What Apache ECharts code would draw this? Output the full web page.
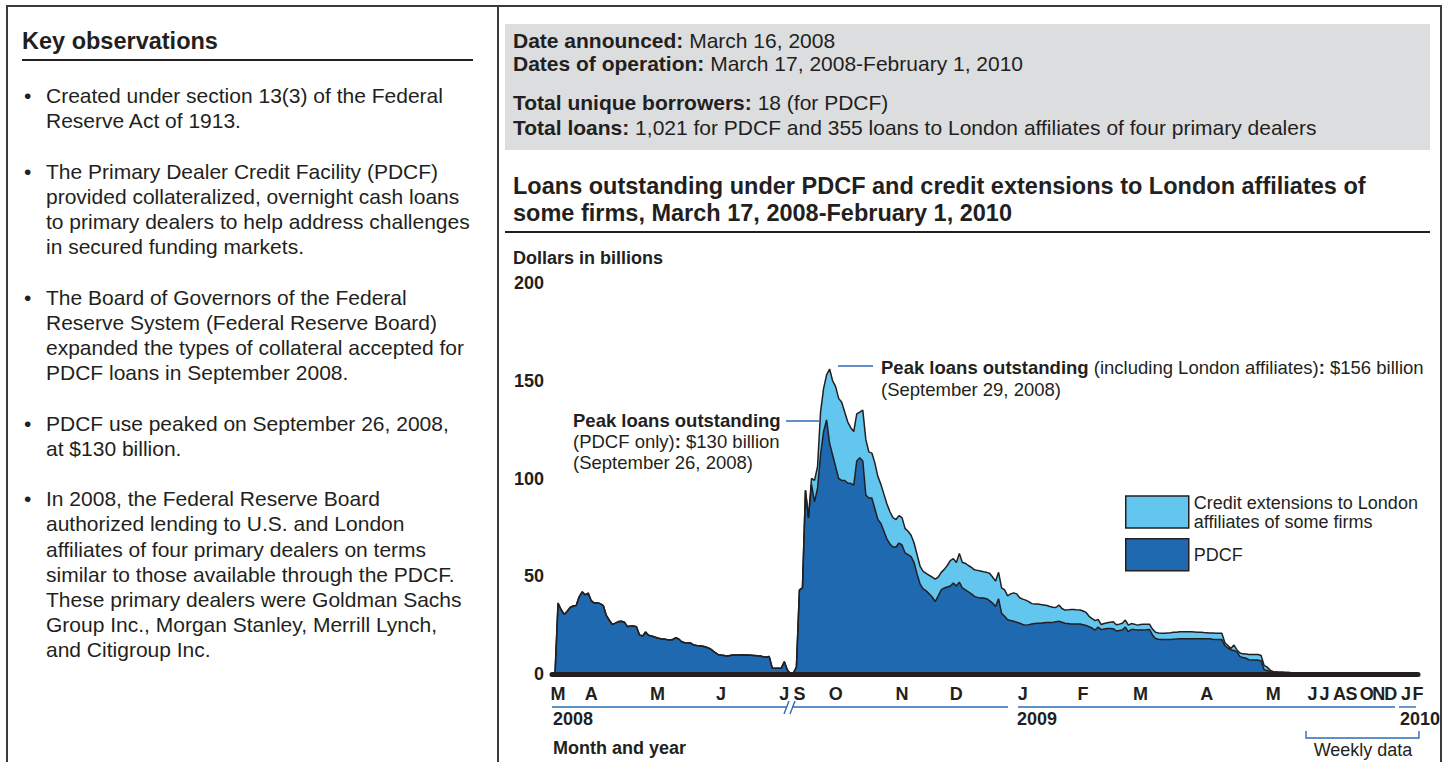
<!DOCTYPE html>
<html>
<head>
<meta charset="utf-8">
<script src="https://cdn.jsdelivr.net/npm/echarts@6/dist/echarts.min.js"></script>
<style>
html,body{margin:0;padding:0;background:#fff;}
body{width:1449px;height:762px;position:relative;overflow:hidden;font-family:"Liberation Sans",Arial,Helvetica,sans-serif;color:#231f20;}
#chart{position:absolute;left:0;top:0;width:1449px;height:762px;z-index:0;}
.abs{position:absolute;z-index:1;}
.rule{position:absolute;background:#231f20;z-index:1;}
#obs{position:absolute;left:24px;top:83px;font-size:21px;line-height:25.2px;white-space:nowrap;z-index:1;}
#obs .p{display:flex;margin-bottom:25.2px;}
#obs .b{width:22px;flex:none;}
#info{position:absolute;left:505px;top:24px;width:925px;height:126px;background:#dcdddf;z-index:0;}
.info{position:absolute;left:513px;font-size:21px;line-height:24px;white-space:nowrap;z-index:1;}
</style>
</head>
<body>
<div id="chart"></div>
<!-- frame -->
<div class="rule" style="left:6px;top:5px;width:1436px;height:1.5px;background:#3a3a3a"></div>
<div class="rule" style="left:6px;top:5px;width:1.5px;height:757px;background:#3a3a3a"></div>
<div class="rule" style="left:497px;top:5px;width:1.5px;height:757px;background:#3a3a3a"></div>
<div class="rule" style="left:1440px;top:5px;width:1.5px;height:757px;background:#3a3a3a"></div>

<!-- left panel -->
<div class="abs" style="left:22px;top:27px;font-size:23.5px;line-height:28px;font-weight:bold;white-space:nowrap">Key observations</div>
<div class="rule" style="left:22px;top:59px;width:451px;height:1.5px"></div>
<div id="obs">
  <div class="p"><span class="b">•</span><span>Created under section 13(3) of the Federal<br>Reserve Act of 1913.</span></div>
  <div class="p"><span class="b">•</span><span>The Primary Dealer Credit Facility (PDCF)<br>provided collateralized, overnight cash loans<br>to primary dealers to help address challenges<br>in secured funding markets.</span></div>
  <div class="p"><span class="b">•</span><span>The Board of Governors of the Federal<br>Reserve System (Federal Reserve Board)<br>expanded the types of collateral accepted for<br>PDCF loans in September 2008.</span></div>
  <div class="p"><span class="b">•</span><span>PDCF use peaked on September 26, 2008,<br>at $130 billion.</span></div>
  <div class="p"><span class="b">•</span><span>In 2008, the Federal Reserve Board<br>authorized lending to U.S. and London<br>affiliates of four primary dealers on terms<br>similar to those available through the PDCF.<br>These primary dealers were Goldman Sachs<br>Group Inc., Morgan Stanley, Merrill Lynch,<br>and Citigroup Inc.</span></div>
</div>

<!-- info box -->
<div id="info"></div>
<div class="info" style="top:29px"><b>Date announced:</b> March 16, 2008</div>
<div class="info" style="top:52px"><b>Dates of operation:</b> March 17, 2008-February 1, 2010</div>
<div class="info" style="top:91px"><b>Total unique borrowers:</b> 18 (for PDCF)</div>
<div class="info" style="top:116px"><b>Total loans:</b> 1,021 for PDCF and 355 loans to London affiliates of four primary dealers</div>
<div class="rule" style="left:505px;top:231px;width:925px;height:1.5px"></div>

<script>
// ---------- DATA ----------
// Observation dates: business days (daily data) then weekly data
const holidays = ['2008-05-26','2008-07-04','2008-09-01','2008-10-13','2008-11-11','2008-11-27',
  '2008-12-25','2009-01-01','2009-01-19','2009-02-16','2009-05-25'];
const dailyRanges = [['2008-03-13','2008-07-03'], ['2008-09-11','2009-05-15']];
const weeklyRange = ['2009-05-20','2010-02-03'];

function iso(d){return d.toISOString().slice(0,10);}
function businessDays(a,b){
  const out=[]; const d=new Date(a+'T00:00:00Z'); const e=new Date(b+'T00:00:00Z');
  while(d<=e){const w=d.getUTCDay(); const s=iso(d); if(w!==0&&w!==6&&holidays.indexOf(s)<0) out.push(s); d.setUTCDate(d.getUTCDate()+1);}
  return out;
}
function weeklyDays(a,b){
  const out=[]; const d=new Date(a+'T00:00:00Z'); const e=new Date(b+'T00:00:00Z');
  while(d<=e){out.push(iso(d)); d.setUTCDate(d.getUTCDate()+7);}
  return out;
}
const dates = businessDays(dailyRanges[0][0],dailyRanges[0][1])
  .concat(businessDays(dailyRanges[1][0],dailyRanges[1][1]))
  .concat(weeklyDays(weeklyRange[0],weeklyRange[1]));

// Month tick labels
const tickDates = ['2008-03-17','2008-04-01','2008-05-01','2008-06-02','2008-07-01','2008-09-15','2008-10-01',
  '2008-11-03','2008-12-01','2009-01-02','2009-02-02','2009-03-02','2009-04-01','2009-05-01','2009-06-03',
  '2009-07-01','2009-08-05','2009-09-02','2009-10-07','2009-11-04','2009-12-02','2010-01-06','2010-02-03'];
const tickLabels = ['M','A','M','J','J','S','O','N','D','J','F','M','A','M','J','J','A','S','O','N','D','J','F'];
const yearLabels = ['2008','2009','2010'];

// PDCF loans outstanding, $ billions
const pdcf = [
  // Mar 2008
  0, 0, 36.3, 33, 30.5, 32, 34, 34.8, 35, 39.5, 42, 40.5, 41.4,
  // Apr
  37.5, 36.3, 36.5, 36, 35, 30, 27.5, 25.4, 26, 26.8, 27, 26.5, 24.2, 24.5, 24.5, 24.2, 20, 19.4, 21.5, 19.8, 19.4, 18.9,
  // May
  18.4, 18, 17.9, 17.6, 17.4, 17.6, 18.6, 17.9, 16.5, 16, 15.8, 15.8, 14.8, 14.6, 14.5, 14.2, 13.8, 13.2, 12.3, 11, 10,
  // Jun
  9.7, 9.5, 9.2, 9.5, 9.7, 9.7, 9.7, 9.8, 9.7, 9.7, 9.6, 9.5, 9.3, 9.2, 8.8, 8.7, 8.9, 3, 3, 3, 3,
  // Jul
  6.3, 2, 0.3,
  // Sep
  0.5, 3.5, 43, 44, 94, 80, 97, 88, 95, 112, 124, 130, 118, 112,
  // Oct
  106, 100, 99, 99, 97.7, 97.5, 96.6, 109, 110.6, 109, 91.6, 90, 90, 84.5, 79, 77, 73, 69, 66.5, 65, 65, 67,
  // Nov
  66, 62, 61, 60, 57, 51, 46, 43.5, 42.5, 41, 39.4, 37, 40, 43, 44, 44.5, 45, 46.5,
  // Dec
  45, 47, 44, 43, 42, 41, 39.7, 39.2, 38.9, 38.9, 38.5, 37.5, 36.3, 34.5, 38.5, 31, 29.5, 27.8, 27.4, 27, 26.5, 26,
  // Jan 2009
  25.3, 25, 25.2, 25.6, 25.8, 26, 26, 26.2, 26.3, 26.4, 26.4, 26.7, 27, 26.5, 26, 25.8, 25.6, 25.6, 25.6, 25.6,
  // Feb
  25.2, 24.8, 24.2, 23.5, 22.5, 24, 22.7, 23, 23.3, 23.3, 23.2, 22, 22.2, 22.5, 24, 21.6, 22.8, 22.7, 22.5,
  // Mar
  22.5, 22.5, 22.6, 22.8, 20, 18.2, 17.8, 17.6, 17.6, 17.6, 17.6, 17.8, 17.9, 18, 18, 18, 18, 18, 18, 18, 18, 18,
  // Apr
  18, 18, 17.8, 17.7, 17.6, 17.6, 14.5, 13.3, 12.3, 12, 11.3, 8.9, 8.4, 8.1, 7.3, 7.2, 7.2, 7.1, 6.8, 2.2, 1.8, 1.2,
  // May (daily)
  1, 1, 0.9, 0.9, 0.8, 0.8, 0.7, 0.7, 0.6, 0.5, 0.4,
  // weekly May 20, 2009 - Feb 3, 2010
  0.3, 0.2, 0, 0, 0, 0, 0, 0, 0, 0, 0, 0, 0, 0, 0, 0, 0, 0, 0,
  0, 0, 0, 0, 0, 0, 0, 0, 0, 0, 0, 0, 0, 0, 0, 0, 0, 0, 0
];

// Credit extensions to London affiliates of some firms, $ billions
const london = [
  // Mar 2008
  0, 0, 0, 0, 0, 0, 0, 0, 0, 0, 0, 0, 0,
  // Apr
  0, 0, 0, 0, 0, 0, 0, 0, 0, 0, 0, 0, 0, 0, 0, 0, 0, 0, 0, 0, 0, 0,
  // May
  0, 0, 0, 0, 0, 0, 0, 0, 0, 0, 0, 0, 0, 0, 0, 0, 0, 0, 0, 0, 0,
  // Jun
  0, 0, 0, 0, 0, 0, 0, 0, 0, 0, 0, 0, 0, 0, 0, 0, 0, 0, 0, 0, 0,
  // Jul
  0, 0, 0,
  // Sep
  0, 0, 0, 0, 0, 0, 3, 11, 11, 22, 22, 23, 38, 38,
  // Oct
  41, 41, 40, 35, 31.3, 28.5, 27.4, 24, 23.4, 26, 28.4, 23.6, 23, 23.5, 22, 20, 19, 18, 16.5, 15, 14, 14,
  // Nov
  14, 12.5, 12, 11, 10, 10, 9, 9, 9, 9.5, 10.2, 11.5, 9.5, 9, 9.5, 11, 13, 12.5,
  // Dec
  12, 14.7, 13, 13.6, 13.5, 13.5, 13.6, 13.8, 13.8, 13.4, 13.5, 14, 13.3, 13, 13.5, 13, 13.5, 12.2, 13.6, 14.5, 14.5, 13,
  // Jan 2009
  13, 12.8, 11.8, 10.4, 10, 9.8, 9.5, 9.1, 8.7, 8.1, 7.8, 7.3, 8.3, 7, 6.7, 7, 7.4, 7.4, 7.2, 7.1,
  // Feb
  7, 6.7, 5.3, 4.8, 4.8, 3.9, 2.6, 2.8, 2.9, 3.2, 3.5, 3.2, 3.3, 3.5, 3.6, 3.4, 3, 2.8, 2.5,
  // Mar
  2.8, 3, 2.9, 2.7, 3, 3.1, 3.2, 3.2, 3.3, 3.4, 3.5, 3.5, 3.5, 3.6, 3.6, 3.6, 3.6, 3.6, 3.5, 3.4, 3.4, 3.2,
  // Apr
  3.1, 3, 3.2, 3.2, 3.2, 3.2, 1.5, 1.3, 0.7, 2.8, 1, 1.8, 1.9, 2.1, 2.7, 2.8, 2.8, 2.9, 2.7, 2.2, 1.7, 0.8,
  // May (daily)
  0.2, 0, 0, 0, 0, 0, 0, 0, 0, 0, 0,
  // weekly
  0, 0, 0, 0, 0, 0, 0, 0, 0, 0, 0, 0, 0, 0, 0, 0, 0, 0, 0,
  0, 0, 0, 0, 0, 0, 0, 0, 0, 0, 0, 0, 0, 0, 0, 0, 0, 0, 0
];

const seriesNames = ['PDCF', 'Credit extensions to London affiliates of some firms'];
const chartTitle = 'Loans outstanding under PDCF and credit extensions to London affiliates of\nsome firms, March 17, 2008-February 1, 2010';

// ---------- CHART ----------
const FONT = '"Liberation Sans", Arial, Helvetica, sans-serif';
const INK = '#231f20';
const BLUE = '#2b6cb8';
const tickMap = {};
tickDates.forEach((d,i)=>{tickMap[d]=tickLabels[i];});
if (dates.length !== pdcf.length || dates.length !== london.length) console.error('length mismatch', dates.length, pdcf.length, london.length);

function txt(text, x, y, opts){
  opts = opts || {};
  return {type:'text', x:x, y:y, z:50, silent:true, style:Object.assign({
    text:text, fill:INK, fontFamily:FONT, fontSize:18, fontWeight:'normal',
    align:'left', verticalAlign:'middle', textAlign:'left', textVerticalAlign:'middle'
  }, opts)};
}
function seg(x1,y1,x2,y2,w,c){
  return {type:'line', z:50, silent:true, shape:{x1:x1,y1:y1,x2:x2,y2:y2}, style:{stroke:c||BLUE, lineWidth:w||1.4}};
}

const chart = echarts.init(document.getElementById('chart'), null, {renderer:'svg'});
const option = {
  animation:false,
  backgroundColor:'transparent',
  title:{text:chartTitle, left:513, top:172, padding:0,
    textStyle:{fontFamily:FONT, fontSize:23.5, fontWeight:'bold', lineHeight:27, color:INK}},
  grid:{left:552, right:31, top:283, bottom:88, containLabel:false, outerBoundsMode:'none'},
  legend:{orient:'vertical', left:1125, top:493, padding:0, itemWidth:63, itemHeight:32, itemGap:7,
    icon:'rect', selectedMode:false,
    data:[
      {name:seriesNames[1], icon:'rect', itemStyle:{color:'#63c6ee', borderColor:INK, borderWidth:1.5}},
      {name:seriesNames[0], icon:'rect', itemStyle:{color:'#1f69b0', borderColor:INK, borderWidth:1.5}}
    ],
    formatter:function(n){return n.replace(' affiliates', '\naffiliates');},
    textStyle:{fontFamily:FONT, fontSize:18, lineHeight:19, color:INK}},
  xAxis:{type:'category', data:dates, boundaryGap:false, z:5,
    axisLine:{lineStyle:{color:INK, width:5}},
    axisTick:{show:false}, splitLine:{show:false},
    axisLabel:{interval:function(i,v){return tickMap[v]!==undefined;},
      formatter:function(v){return tickMap[v]||'';},
      hideOverlap:false,
      fontFamily:FONT, fontSize:18, fontWeight:'bold', color:INK, margin:11}},
  yAxis:{type:'value', min:0, max:200, interval:50,
    axisLine:{show:false}, axisTick:{show:false}, splitLine:{show:false},
    axisLabel:{fontFamily:FONT, fontSize:18, fontWeight:'bold', color:INK, margin:8}},
  series:[
    {name:seriesNames[0], type:'line', stack:'total', data:pdcf, symbol:'none', showSymbol:false, silent:true,
      lineStyle:{color:INK, width:1.5}, itemStyle:{color:'#1f69b0'}, areaStyle:{color:'#1f69b0', opacity:1},
      emphasis:{disabled:true}},
    {name:seriesNames[1], type:'line', stack:'total', data:london, symbol:'none', showSymbol:false, silent:true,
      lineStyle:{color:INK, width:1.5}, itemStyle:{color:'#63c6ee'}, areaStyle:{color:'#63c6ee', opacity:1},
      emphasis:{disabled:true}}
  ],
  graphic:[
    txt('Dollars in billions', 513, 258, {fontWeight:'bold'}),
    txt('Month and year', 553, 748, {fontWeight:'bold'}),
    txt(yearLabels[0], 553, 719, {fontWeight:'bold'}),
    txt(yearLabels[1], 1017, 719, {fontWeight:'bold'}),
    txt(yearLabels[2], 1400, 719, {fontWeight:'bold'}),
    txt('Weekly data', 1363, 750, {align:'center', textAlign:'center'}),
    // year rules
    seg(552, 707, 787, 707), seg(792, 707, 1008, 707),
    seg(1018, 707, 1395, 707), seg(1399, 707, 1416, 707),
    seg(784, 714, 789, 701), seg(790, 714, 795, 701),
    // weekly bracket
    {type:'polyline', z:50, silent:true, shape:{points:[[1306,731],[1306,738],[1419,738],[1419,731]]},
      style:{stroke:BLUE, lineWidth:1.4, fill:null}},
    // annotations
    seg(786, 421, 819, 421),
    seg(838, 366, 873, 366),
    {type:'text', x:573, y:410, z:50, silent:true, style:{
      text:'{b|Peak loans outstanding}\n(PDCF only){b|:} $130 billion\n(September 26, 2008)',
      fill:INK, fontFamily:FONT, fontSize:18.5, lineHeight:21, align:'left', verticalAlign:'top',
      rich:{b:{fontFamily:FONT, fontSize:18.5, fontWeight:'bold', lineHeight:21, fill:INK}}}},
    {type:'text', x:881, y:357, z:50, silent:true, style:{
      text:'{b|Peak loans outstanding} (including London affiliates){b|:} $156 billion\n(September 29, 2008)',
      fill:INK, fontFamily:FONT, fontSize:18.5, lineHeight:21.5, align:'left', verticalAlign:'top',
      rich:{b:{fontFamily:FONT, fontSize:18.5, fontWeight:'bold', lineHeight:21.5, fill:INK}}}}
  ]
};
chart.setOption(option);
</script>
</body>
</html>
